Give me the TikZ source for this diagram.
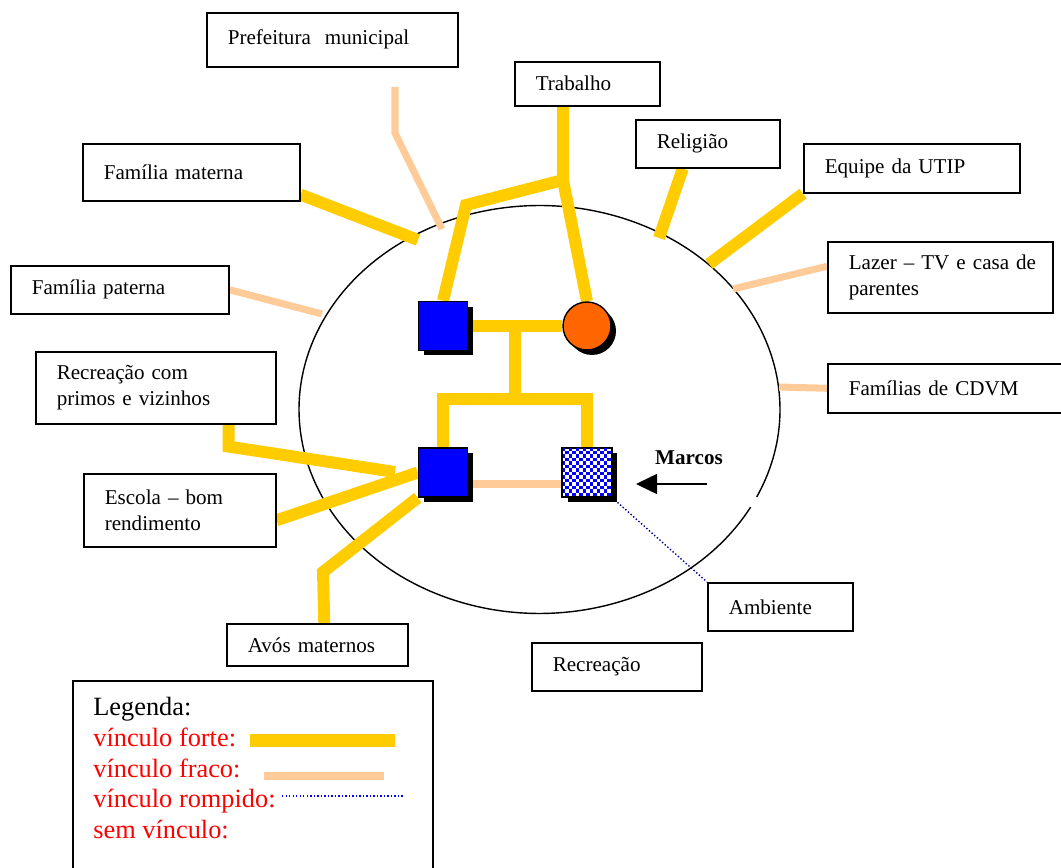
\documentclass[tikz,border=0pt]{standalone}
\usepackage{fontspec}
\setmainfont{Liberation Serif}
\usepackage{tikz}
\usetikzlibrary{positioning, arrows.meta, shadows, backgrounds}

\definecolor{amarelo}{RGB}{255,204,0}
\definecolor{pessego}{RGB}{255,204,153}
\definecolor{azul}{RGB}{0,0,255}
\definecolor{laranja}{RGB}{255,102,0}
\definecolor{azulescuro}{RGB}{0,0,150}
\definecolor{vermelho}{RGB}{255,0,0}

\tikzstyle{caixa} = [
    rectangle, draw, line width=0.9pt,
    anchor=north west, inner xsep=0.42cm, inner ysep=0pt,
    align=left, font=\fontsize{12}{14.8}\selectfont % texto alinhado a esquerda
]
\tikzstyle{membro} = [
    draw, line width=0.8pt, minimum size=0.98cm, inner sep=0pt,
    drop shadow={shadow xshift=0.1cm, shadow yshift=-0.1cm, fill=black, opacity=1}
]
\tikzstyle{forte} = [draw=amarelo, line width=6.8pt]
\tikzstyle{fraco} = [draw=pessego, line width=4pt]
\tikzstyle{rompido} = [draw=azulescuro, line width=0.8pt, dash pattern=on 0.8pt off 1.2pt]
\tikzstyle{legenda} = [anchor=base west, inner sep=0pt, font=\fontsize{15}{17}\selectfont, text=vermelho]

\begin{document}
\begin{tikzpicture}[x=0.02cm, y=-0.02cm]
    \useasboundingbox (0,0) rectangle (1061,868);

    % Caixas do ecomapa
    \node[caixa, text width=4.18cm, minimum height=1.08cm] (prefeitura) at (206,12) {Prefeitura\ \ municipal};
    \node[caixa, text width=2.06cm, minimum height=0.88cm] (trabalho) at (514,61) {Trabalho};
    \node[caixa, text width=3.50cm, minimum height=1.14cm] (materna) at (82,143) {Família materna};
    \node[caixa, text width=2.04cm, minimum height=0.96cm] (religiao) at (635,119) {Religião};
    \node[caixa, text width=3.48cm, minimum height=0.98cm] (equipe) at (803,143) {Equipe da UTIP};
    \node[caixa, text width=3.52cm, minimum height=0.96cm] (paterna) at (10,265) {Família paterna};
    \node[caixa, text width=3.66cm, minimum height=1.42cm] (lazer) at (827,241) {\mbox{Lazer – TV e casa de}\\parentes};
    \node[caixa, text width=3.96cm, minimum height=0.98cm] (cdvm) at (827,363) {Famílias de CDVM};
    \node[caixa, text width=3.96cm, minimum height=1.44cm] (primos) at (35,351) {Recreação com\\primos e vizinhos};
    \node[caixa, text width=3.00cm, minimum height=1.46cm] (escola) at (83,473) {Escola – bom\\rendimento};
    \node[caixa, text width=2.78cm, minimum height=0.84cm] (avos) at (226,623) {Avós maternos};
    \node[caixa, text width=2.06cm, minimum height=0.96cm] (ambiente) at (707,582) {Ambiente};
    \node[caixa, text width=2.56cm, minimum height=0.96cm] (recreacao) at (531,642) {Recreação};

    % Familia
    \node[membro, rectangle, fill=azul] (pai) at (443,326) {};
    \node[membro, circle, fill=laranja, minimum size=0.96cm] (mae) at (587,326) {};
    \node[membro, rectangle, fill=azul] (irmao) at (443,472.5) {};
    \node[membro, rectangle, fill=white] (marcos) at (587,472.5) {};
    \foreach \i in {0,...,13}
        \foreach \j in {0,...,13} {
            \pgfmathtruncatemacro\xadrez{mod(\i+\j,2)}
            \ifnum\xadrez=0 \fill[azul] ([shift={(\i*3.5,\j*3.5)}]marcos.north west) rectangle +(3.5,3.5); \fi
        }
    \draw[line width=0.8pt] (marcos.north west) rectangle (marcos.south east);

    \node[font=\bfseries\fontsize{12}{14}\selectfont] (rotmarcos) at (689,458) {Marcos};

    % Pontos livres dos vinculos
    \coordinate (ce) at (539.5,409.5);
    \coordinate (tb) at (563,180);
    \coordinate (tl) at (466,205);
    \coordinate (m1) at (418,240);
    \coordinate (p0) at (395,87);
    \coordinate (p1) at (395,133);
    \coordinate (p2) at (442,229);
    \coordinate (r1) at (659,238);
    \coordinate (e1) at (709,264);
    \coordinate (l1) at (733,289);
    \coordinate (c1) at (779,387);
    \coordinate (fp1) at (322,314);
    \coordinate (pr1) at (395,472);
    \coordinate (av1) at (323,572);
    \coordinate (fb) at (515,399);
    \coordinate (fr) at (515,484);
    \coordinate (mt) at (707,484);
    \coordinate (ma) at (636,484);

    \begin{scope}[on background layer]
        % Circulo do ambiente (com pequena abertura)
        \draw[line width=0.8pt] (ce) ++(-25.4:4.81cm and 4.08cm)
            arc[start angle=-25.4, end angle=331.4, x radius=4.81cm, y radius=4.08cm];

        % Vinculos externos
        \draw[forte] (trabalho.south -| tb) -- (tb) -- (tl) -- (pai.north);
        \draw[forte] (tb) -- (mae.north);
        \draw[forte] (materna.south east) ++(0,-7) -- (m1);
        \draw[fraco] (p0) -- (p1) -- (p2);
        \draw[forte] (religiao.south) ++(-25,0) -- (r1);
        \draw[forte] (equipe.south west) -- (e1);
        \draw[fraco] (lazer.west) ++(0,-11) -- (l1);
        \draw[fraco] (cdvm.west) -- (c1);
        \draw[fraco] (paterna.east) -- (fp1);
        \draw[forte] (primos.south east) ++(-48,0) -- ++(0,22) -- (pr1);
        \draw[forte] (escola.east) ++(0,10) -- (irmao.west);
        \draw[forte] (avos.north) ++(7,0) -- (av1) -- (irmao.south west);

        % Vinculos familiares
        \draw[forte] (pai.east) -- (mae.west);
        \draw[forte] (fb |- pai.east) -- (fb);
        \draw[forte] (irmao.north) -- (irmao.north |- fb) -- (marcos.north |- fb) -- (marcos.north);
        \draw[fraco] (irmao.east |- fr) -- (marcos.west |- fr);
        \draw[rompido] (marcos.south east) -- (ambiente.north west);
    \end{scope}

    \draw[line width=0.9pt, -{Triangle[length=4.2mm, width=4mm]}] (mt) -- (ma);

    % Legenda
    \node[draw, line width=0.9pt, anchor=north west, minimum width=7.2cm, minimum height=4cm, inner sep=0pt] (caixaleg) at (72,680) {};
    \node[legenda, text=black] (legtitulo) at (93,715) {Legenda:};
    \node[legenda] (legforte) at (93,746) {vínculo forte:};
    \node[legenda] (legfraco) at (93,777) {vínculo fraco:};
    \node[legenda] (legrompido) at (93,807) {vínculo rompido:};
    \node[legenda] (legsem) at (93,838) {sem vínculo:};
    \draw[forte, line width=7.4pt] (250,740) -- (395,740);
    \draw[fraco] (264,776) -- (384,776);
    \draw[rompido, draw=azul] (282,796) -- (403,796);

\end{tikzpicture}
\end{document}
